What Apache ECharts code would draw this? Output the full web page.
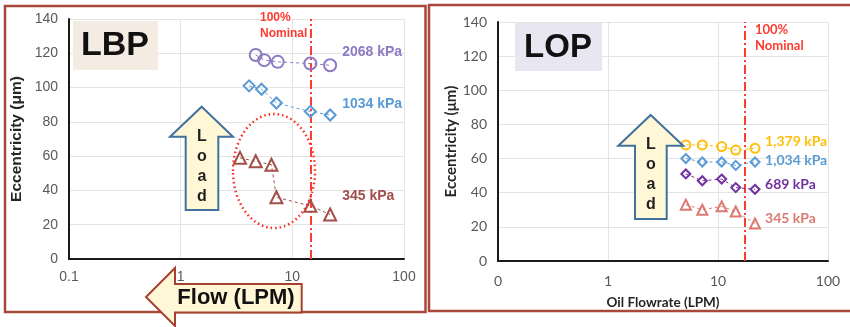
<!DOCTYPE html>
<html>
<head>
<meta charset="utf-8">
<script src="https://cdn.jsdelivr.net/npm/echarts@6/dist/echarts.min.js"></script>
<style>
  html, body { margin: 0; padding: 0; background: #fff; }
  #chart { width: 850px; height: 327px; }
</style>
</head>
<body>
<div id="chart"></div>
<script>
// LBP (left panel)
const lbpX2068 = [4.7, 5.6, 7.4, 14.5, 21.8]
const lbpY2068 = [119, 116, 115, 114, 113]
const lbpX1034 = [4.1, 5.3, 7.2, 14.5, 21.8]
const lbpY1034 = [101, 99, 91, 86, 84]
const lbpX345 = [3.4, 4.7, 6.5, 7.2, 14.5, 21.8]
const lbpY345 = [59, 57, 55, 36, 31, 26]
const lbpNominal = 14.5
const lbpXTicks = ['0.1', '1', '10', '100']

// LOP (right panel)
const lopX = [5.1, 7.2, 10.8, 14.5, 21.7]
const lopY1379 = [68, 68, 67, 65, 66]
const lopY1034 = [60, 58, 58, 56, 58]
const lopY689 = [51, 47, 48, 43, 42]
const lopY345 = [33, 30, 32, 29, 22]
const lopNominal = 17.6
const lopXTicks = ['0', '1', '10', '100']

const ARIAL = 'Liberation Sans, Arial, sans-serif'
const CALI = 'Lato, Liberation Sans, sans-serif'
const RED = '#FF3B30'
const CREAM = '#FFF7D6'

const pts = (xs, ys) => xs.map((x, i) => [x, ys[i]])

function xAxisFor(grid, ticks, font, size, margin) {
    return {
        type: 'log', logBase: 10, min: 0.1, max: 100, gridIndex: grid,
        axisLine: { show: true, onZero: false, lineStyle: { color: '#1a1a1a', width: 2 } },
        axisTick: { show: false },
        splitLine: { show: true, lineStyle: { color: '#E4E4E4' } },
        axisLabel: {
            color: '#595959', fontSize: size, fontFamily: font, margin: margin,
            formatter: v => ticks[Math.round(Math.log10(v)) + 1]
        }
    }
}

function yAxisFor(grid, font, size, nameGap, nameSize) {
    return {
        type: 'value', min: 0, max: 140, interval: 20, gridIndex: grid,
        name: 'Eccentricity (μm)', nameLocation: 'middle', nameGap: nameGap,
        nameTextStyle: { fontFamily: font, fontSize: nameSize, fontWeight: 'bold', color: '#262626' },
        axisLine: { show: true, lineStyle: { color: '#1a1a1a', width: 2 } },
        axisTick: { show: false },
        splitLine: { lineStyle: { color: '#E4E4E4' } },
        axisLabel: { color: '#595959', fontSize: size, fontFamily: font, margin: 11 }
    }
}

function line(name, grid, data, color, symbol, size, label, offset, font, fsize) {
    return {
        name: name, type: 'line', xAxisIndex: grid, yAxisIndex: grid,
        data: data, symbol: symbol, symbolSize: size, showSymbol: true,
        lineStyle: { color: color, width: 1, type: [3, 3] },
        itemStyle: { color: 'rgba(255,255,255,0)', borderColor: color, borderWidth: 2 },
        endLabel: {
            show: true, formatter: label, offset: offset, color: color,
            fontFamily: font, fontSize: fsize, fontWeight: 'bold', align: 'left'
        },
        z: 5
    }
}

function nominal(value) {
    return {
        symbol: 'none', silent: true, label: { show: false },
        lineStyle: { color: RED, width: 2, type: [9, 3, 2, 3] },
        data: [{ xAxis: value }]
    }
}

function upArrow(tipX, tipY, headY, wingL, wingR, shaftL, shaftR, bottom) {
    return {
        type: 'polygon', z: 50,
        shape: { points: [[tipX, tipY], [wingR, headY], [shaftR, headY], [shaftR, bottom],
                          [shaftL, bottom], [shaftL, headY], [wingL, headY]] },
        style: { fill: CREAM, stroke: '#41719C', lineWidth: 2 }
    }
}

function loadText(x, y0, step) {
    return 'Load'.split('').map((ch, i) => ({
        type: 'text', z: 51, x: x, y: y0 + i * step,
        style: { text: ch, fill: '#1f1f1f', font: 'bold 16px ' + ARIAL, align: 'center', verticalAlign: 'middle' }
    }))
}

const chart = echarts.init(document.getElementById('chart'))

const lbpS2068 = line('2068 kPa', 0, pts(lbpX2068, lbpY2068), '#8C7BC4', 'circle', 12, '2068 kPa', [4, -13], ARIAL, 14)
lbpS2068.markLine = nominal(lbpNominal)
const lopS1379 = line('1,379 kPa', 1, pts(lopX, lopY1379), '#FFBE0A', 'circle', 9, '1,379 kPa', [2, -7], CALI, 14)
lopS1379.markLine = nominal(lopNominal)

const option = {
    animation: false,
    backgroundColor: '#fff',
    grid: [
        { left: 69, top: 19, width: 335, height: 240 },
        { left: 498, top: 22, width: 330, height: 239 }
    ],
    xAxis: [
        xAxisFor(0, lbpXTicks, ARIAL, 14, 11),
        Object.assign(xAxisFor(1, lopXTicks, CALI, 14, 13), {
            name: 'Oil Flowrate (LPM)', nameLocation: 'middle', nameGap: 35,
            nameTextStyle: { fontFamily: CALI, fontSize: 13.5, fontWeight: 'bold', color: '#262626' }
        })
    ],
    yAxis: [
        yAxisFor(0, ARIAL, 14, 44, 15.5),
        yAxisFor(1, CALI, 14, 39, 15)
    ],
    series: [
        lbpS2068,
        line('1034 kPa', 0, pts(lbpX1034, lbpY1034), '#5B9BD5', 'diamond', 11, '1034 kPa', [4, -11], ARIAL, 14),
        line('345 kPa', 0, pts(lbpX345, lbpY345), '#A24F49', 'triangle', 12, '345 kPa', [4, -18], ARIAL, 14),
        lopS1379,
        line('1,034 kPa', 1, pts(lopX, lopY1034), '#5B9BD5', 'diamond', 9, '1,034 kPa', [2, -2], CALI, 14),
        line('689 kPa', 1, pts(lopX, lopY689), '#7030A0', 'diamond', 9, '689 kPa', [2, -5], CALI, 14),
        line('345 kPa', 1, pts(lopX, lopY345), '#DC7A71', 'triangle', 10, '345 kPa', [2, -5], CALI, 14)
    ],
    graphic: [
        // panel frames
        { type: 'rect', z: 60, shape: { x: 5, y: 6, width: 420.5, height: 306 },
          style: { fill: 'none', stroke: '#A8473B', lineWidth: 2.5 } },
        { type: 'rect', z: 60, shape: { x: 429, y: 5, width: 430, height: 306 },
          style: { fill: 'none', stroke: '#A8473B', lineWidth: 2.5 } },
        // title boxes
        { type: 'rect', z: 40, shape: { x: 73, y: 21, width: 85, height: 49 }, style: { fill: '#F4ECE2' } },
        { type: 'text', z: 41, x: 115, y: 46,
          style: { text: 'LBP', fill: '#111', font: 'bold 34px ' + ARIAL, align: 'center', verticalAlign: 'middle' } },
        { type: 'rect', z: 40, shape: { x: 515, y: 23, width: 87, height: 48 }, style: { fill: '#E8E6F0' } },
        { type: 'text', z: 41, x: 558, y: 48,
          style: { text: 'LOP', fill: '#111', font: 'bold 33px ' + ARIAL, align: 'center', verticalAlign: 'middle' } },
        // nominal notes
        { type: 'text', z: 41, x: 260, y: 10,
          style: { text: '100%\nNominal', fill: RED, font: 'bold 12px ' + ARIAL, lineHeight: 16 } },
        { type: 'text', z: 41, x: 755, y: 22,
          style: { text: '100%\nNominal', fill: RED, font: 'bold 13px ' + CALI, lineHeight: 16 } },
        // dotted ellipse around the 345 kPa points
        { type: 'ellipse', z: 45, shape: { cx: 274, cy: 171, rx: 41, ry: 57 },
          style: { fill: 'none', stroke: '#FF2A1F', lineWidth: 2.5, lineDash: [1.5, 3] } },
        // load arrows
        upArrow(201.7, 106.7, 136.7, 170, 233, 185.7, 218.3, 210),
        ...loadText(202, 137, 20),
        upArrow(650.7, 115, 145.7, 618.3, 683.3, 635, 666.7, 219),
        ...loadText(651, 145, 20),
        // flow arrow
        { type: 'polygon', z: 70,
          shape: { points: [[146, 297], [175, 268], [175, 284], [301.7, 284], [301.7, 312.6], [175, 312.6], [175, 326]] },
          style: { fill: CREAM, stroke: '#A8402F', lineWidth: 2 } },
        { type: 'text', z: 71, x: 236, y: 298,
          style: { text: 'Flow (LPM)', fill: '#111', font: 'bold 22px ' + ARIAL, align: 'center', verticalAlign: 'middle' } }
    ]
}

chart.setOption(option)
</script>
</body>
</html>
